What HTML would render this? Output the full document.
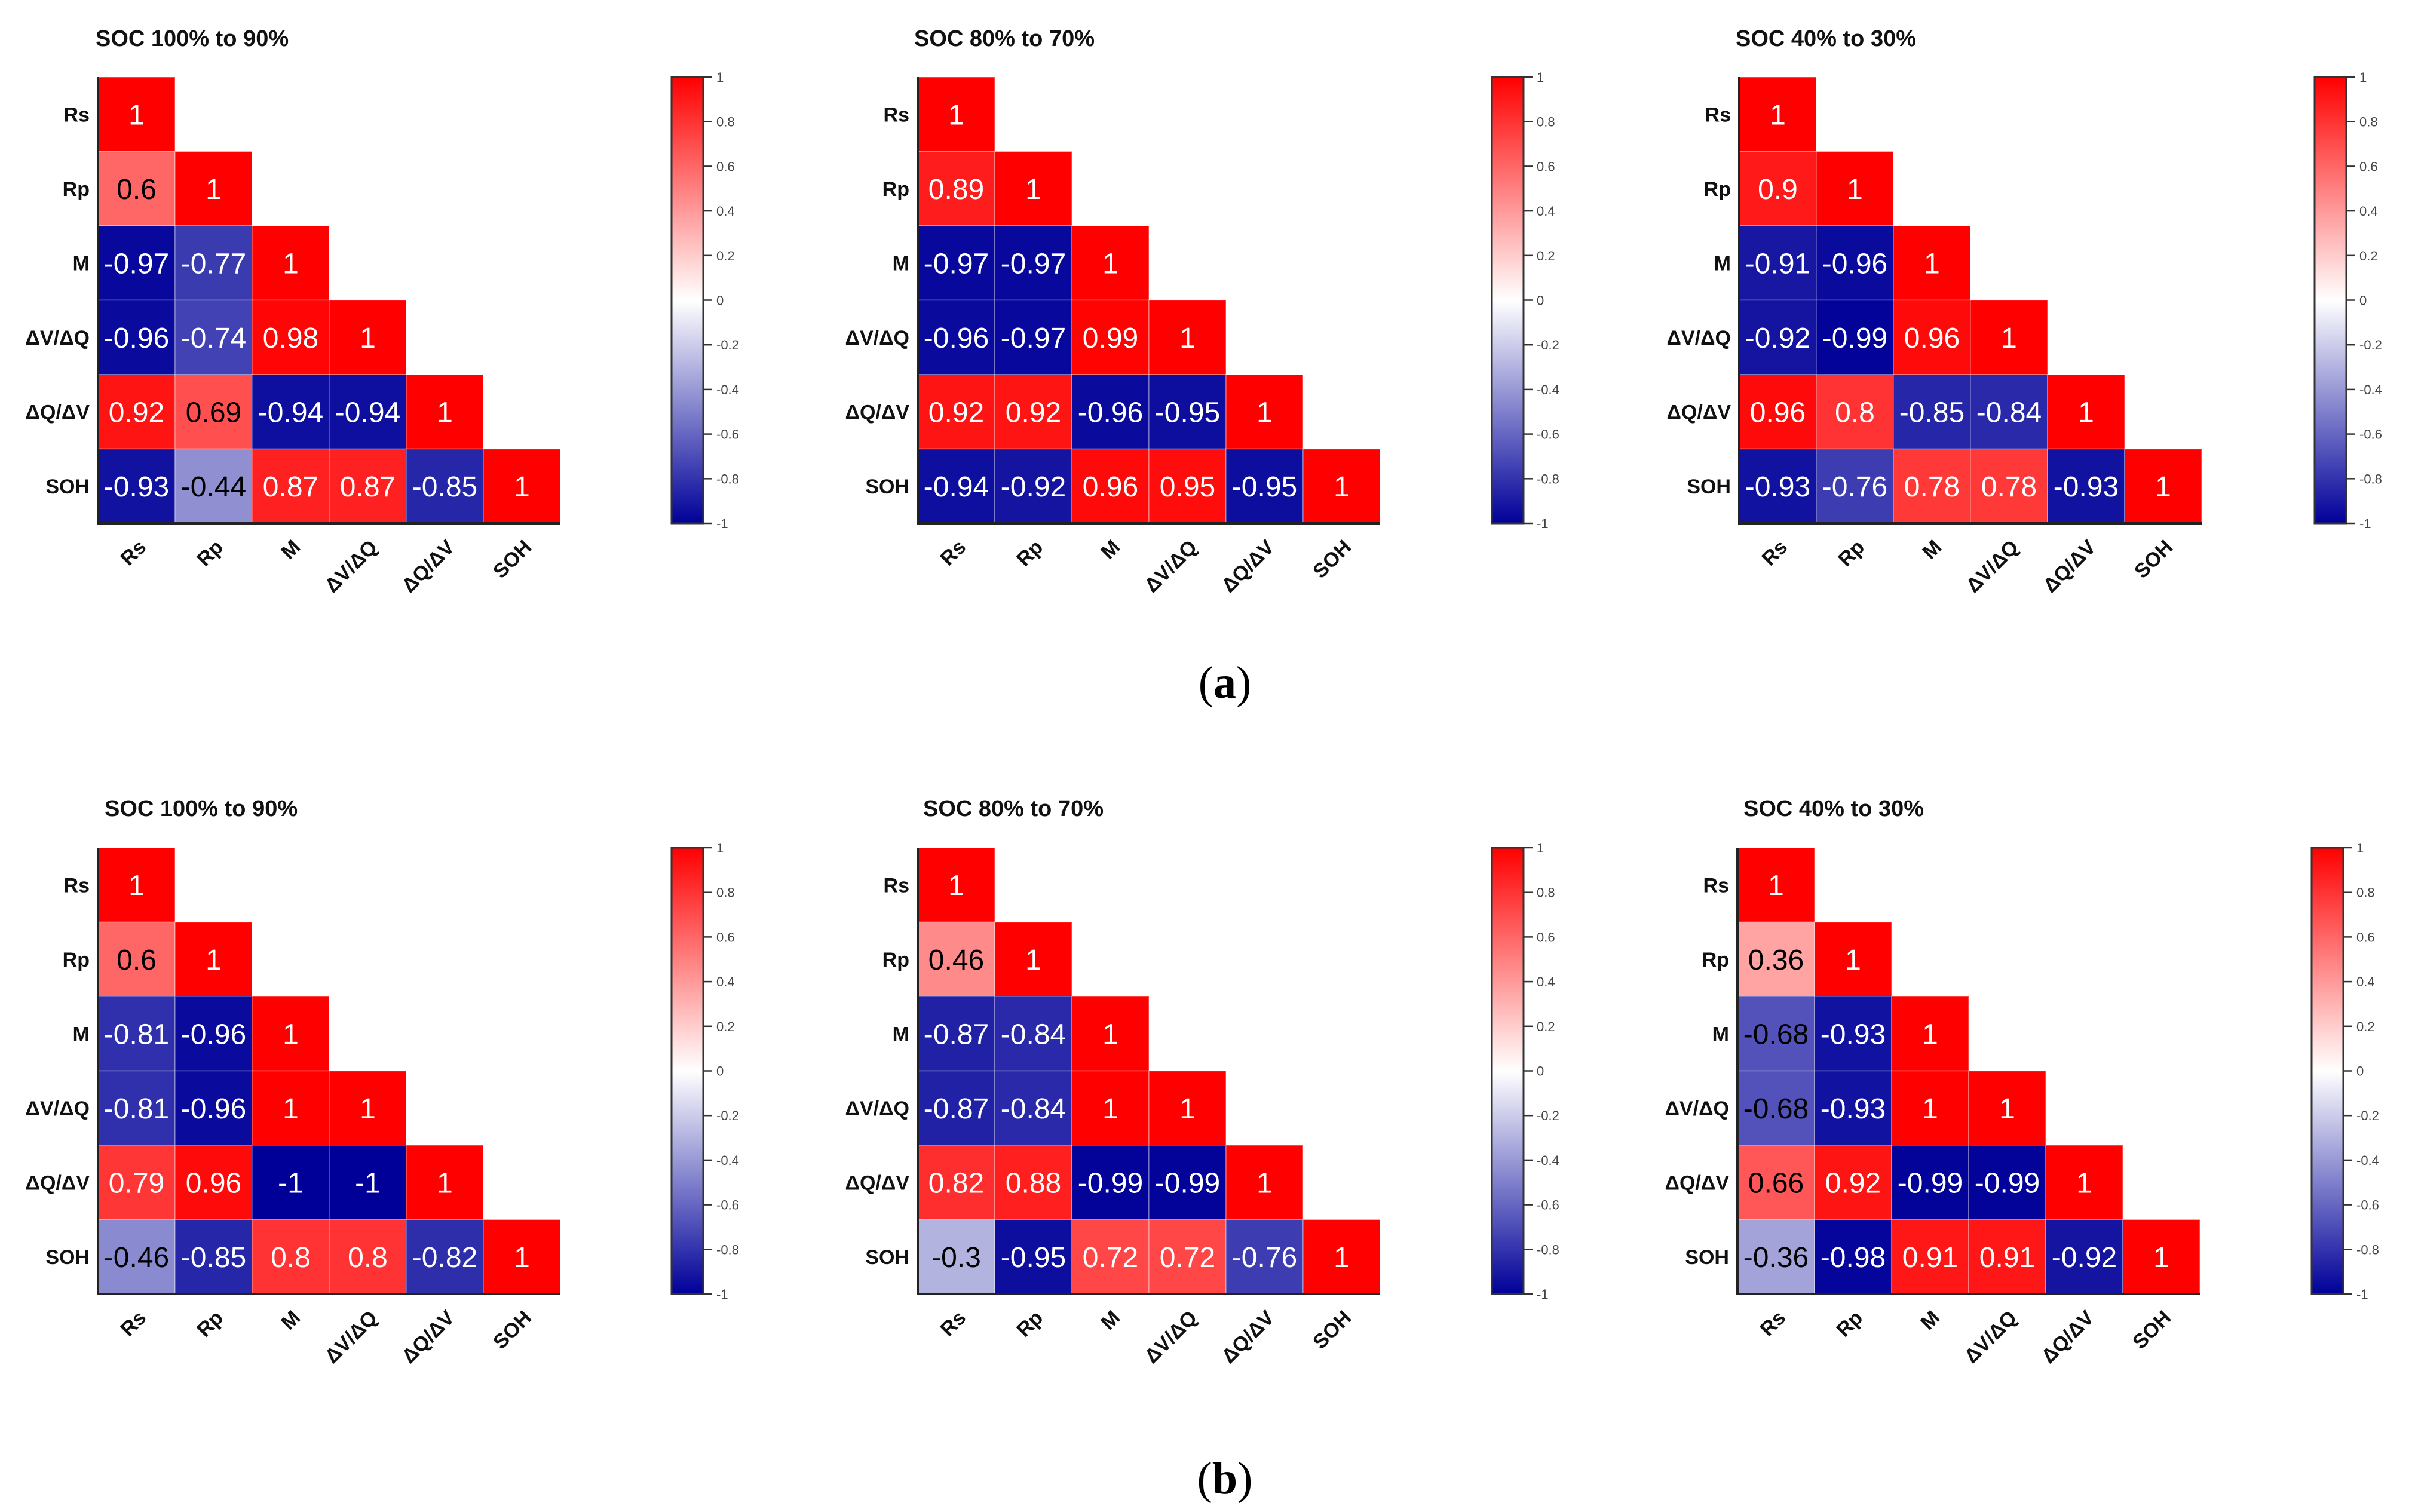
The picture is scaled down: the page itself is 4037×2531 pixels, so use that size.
<!DOCTYPE html>
<html><head><meta charset="utf-8">
<style>
html,body{margin:0;padding:0;background:#fff;}
svg{display:block;}
</style></head>
<body>
<svg id="fig" xmlns="http://www.w3.org/2000/svg" width="4037" height="2531" viewBox="0 0 4037 2531"></svg>
<script>
const labels = ["Rs","Rp","M","ΔV/ΔQ","ΔQ/ΔV","SOH"];
const titles = ["SOC 100% to 90%","SOC 80% to 70%","SOC 40% to 30%","SOC 100% to 90%","SOC 80% to 70%","SOC 40% to 30%"];
const colorTicks = [1,0.8,0.6,0.4,0.2,0,-0.2,-0.4,-0.6,-0.8,-1];
const tickText = ["1","0.8","0.6","0.4","0.2","0","-0.2","-0.4","-0.6","-0.8","-1"];
const a1 = [[1],[0.6,1],[-0.97,-0.77,1],[-0.96,-0.74,0.98,1],[0.92,0.69,-0.94,-0.94,1],[-0.93,-0.44,0.87,0.87,-0.85,1]];
const a2 = [[1],[0.89,1],[-0.97,-0.97,1],[-0.96,-0.97,0.99,1],[0.92,0.92,-0.96,-0.95,1],[-0.94,-0.92,0.96,0.95,-0.95,1]];
const a3 = [[1],[0.9,1],[-0.91,-0.96,1],[-0.92,-0.99,0.96,1],[0.96,0.8,-0.85,-0.84,1],[-0.93,-0.76,0.78,0.78,-0.93,1]];
const b1 = [[1],[0.6,1],[-0.81,-0.96,1],[-0.81,-0.96,1,1],[0.79,0.96,-1,-1,1],[-0.46,-0.85,0.8,0.8,-0.82,1]];
const b2 = [[1],[0.46,1],[-0.87,-0.84,1],[-0.87,-0.84,1,1],[0.82,0.88,-0.99,-0.99,1],[-0.3,-0.95,0.72,0.72,-0.76,1]];
const b3 = [[1],[0.36,1],[-0.68,-0.93,1],[-0.68,-0.93,1,1],[0.66,0.92,-0.99,-0.99,1],[-0.36,-0.98,0.91,0.91,-0.92,1]];
const panels = [a1,a2,a3,b1,b2,b3];

const NS="http://www.w3.org/2000/svg";
const svg=document.getElementById('fig');
function mk(tag,attrs,parent){const e=document.createElementNS(NS,tag);for(const k in attrs)e.setAttribute(k,attrs[k]);(parent||svg).appendChild(e);return e;}
function color(v){
  if(v>=0){const c=Math.round(255*(1-v));return `rgb(255,${c},${c})`;}
  const t=-v;const c=Math.round(255*(1-t));const b=Math.round(255-102*t);return `rgb(${c},${c},${b})`;
}
const CW=129, CH=124.5;
const layout=[
 {gx:164,gy:129,cb:1124,tx:160,ty:77},
 {gx:1536,gy:129,cb:2497,tx:1530,ty:77},
 {gx:2911,gy:129,cb:3874,tx:2905,ty:77},
 {gx:164,gy:1419,cb:1124,tx:175,ty:1366},
 {gx:1536,gy:1419,cb:2497,tx:1545,ty:1366},
 {gx:2908,gy:1419,cb:3869,tx:2918,ty:1366}];
const grad=mk('linearGradient',{id:'cmap',x1:0,y1:0,x2:0,y2:1},mk('defs',{}));
mk('stop',{offset:'0','stop-color':'rgb(255,0,0)'},grad);
mk('stop',{offset:'0.5','stop-color':'rgb(255,255,255)'},grad);
mk('stop',{offset:'1','stop-color':'rgb(0,0,153)'},grad);

panels.forEach((data,p)=>{
  const L=layout[p];
  const g=mk('g',{});
  
  
  const t=mk('text',{x:L.tx,y:L.ty,'font-family':'Liberation Sans, sans-serif','font-size':38,'font-weight':'bold',fill:'#111'},g);
  t.textContent=titles[p];
  
  
  const xs=j=>L.gx+j*CW, ys=i=>L.gy+i*CH;
  data.forEach((row,i)=>{
    row.forEach((v,j)=>{
      const r=mk('rect',{x:xs(j),y:ys(i),width:CW,height:CH,fill:color(v),stroke:'rgba(255,255,255,0.35)','stroke-width':1.5},g);
      
      
      const tx=mk('text',{x:xs(j)+CW/2,y:ys(i)+CH/2+17,'text-anchor':'middle','font-family':'Liberation Sans, sans-serif','font-size':48,fill:Math.abs(v)<0.7?'#000':'#fff'},g);
      tx.textContent=String(v);
      
      
    });
    const yl=mk('text',{x:L.gx-14,y:ys(i)+CH/2+12,'text-anchor':'end','font-family':'Liberation Sans, sans-serif','font-size':34,'font-weight':'bold',fill:'#111'},g);
    yl.textContent=labels[i];
    
    
  });
  const n=labels.length;
  labels.forEach((lab,j)=>{
    const cx=xs(j)+CW/2+18, cy=ys(n)+42;
    const xl=mk('text',{x:cx,y:cy,'text-anchor':'end','font-family':'Liberation Sans, sans-serif','font-size':34,'font-weight':'bold',fill:'#111',transform:`rotate(-45 ${cx} ${cy})`},g);
    xl.textContent=lab;
    
    
  });
  const ax=mk('path',{d:`M${L.gx} ${L.gy} V${ys(n)} H${xs(n)}`,fill:'none',stroke:'#222','stroke-width':4},g);
  
  
  const cbTop=L.gy, cbH=n*CH, cbW=53;
  const cb=mk('rect',{x:L.cb,y:cbTop,width:cbW,height:cbH,fill:'url(#cmap)',stroke:'#333','stroke-width':3},g);
  
  
  colorTicks.forEach((tv,k)=>{
    const y=cbTop+(1-tv)/2*cbH;
    mk('line',{x1:L.cb+cbW,x2:L.cb+cbW+15,y1:y,y2:y,stroke:'#333','stroke-width':2.5},g);
    const tt=mk('text',{x:L.cb+cbW+22,y:y+8,'font-family':'Liberation Sans, sans-serif','font-size':22,fill:'#444'},g);
    tt.textContent=tickText[k];
    
    
  });
});
const la=mk('text',{x:2050,y:1168,'text-anchor':'middle','font-family':'Liberation Serif, serif','font-size':76,fill:'#000'});
la.innerHTML='(<tspan font-weight="bold">a</tspan>)';


const lb=mk('text',{x:2050,y:2500,'text-anchor':'middle','font-family':'Liberation Serif, serif','font-size':76,fill:'#000'});
lb.innerHTML='(<tspan font-weight="bold">b</tspan>)';


</script>
</body></html>
